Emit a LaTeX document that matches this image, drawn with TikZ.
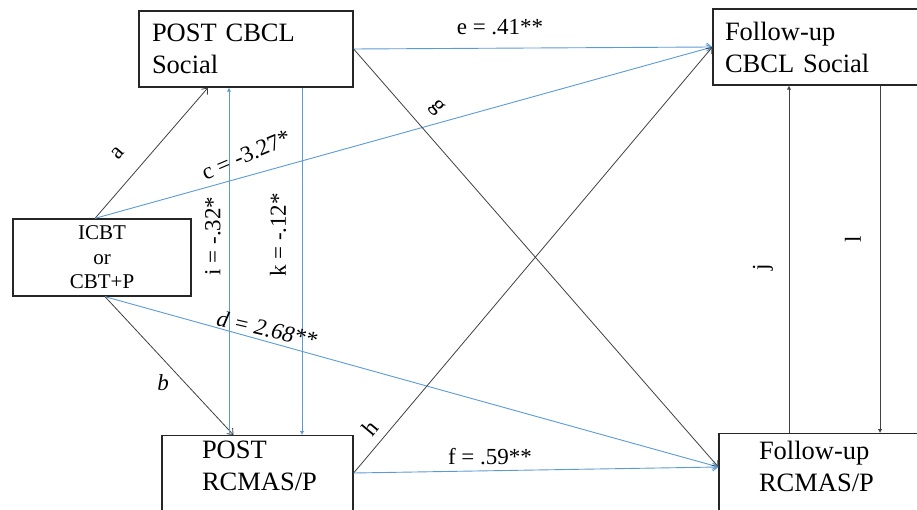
\documentclass[tikz,border=0pt]{standalone}
\usepackage{fontspec}
\setmainfont{Liberation Serif}
\usepackage{xcolor}
\usetikzlibrary{arrows.meta}
\definecolor{pathblue}{HTML}{5B9BD5}
\definecolor{pathgrey}{HTML}{404040}
\definecolor{boxline}{HTML}{262626}

\begin{document}
\begin{tikzpicture}[x=1pt, y=-1pt, font=\fontsize{26.5}{32}\selectfont,
  box/.style={draw=boxline, line width=1.3pt, align=left},
  lbl/.style={inner sep=0pt, font=\fontsize{23}{27}\selectfont},
  bluepath/.style={draw=pathblue, line width=0.9pt},
  greypath/.style={draw=pathgrey, line width=0.8pt},
  opentip/.style={-{Straight Barb[length=5pt,width=8pt]}},
  dottip/.style={-{Latex[length=4pt,width=4.5pt]}}]
  \useasboundingbox (0,0) rectangle (917,510);
  \clip (0,0) rectangle (917,510);

  \node[box, minimum width=214pt, minimum height=76pt, text width=188pt, inner xsep=13pt] (postcbcl) at (246,49) {POST CBCL\\Social};
  \node[box, minimum width=240pt, minimum height=76pt, text width=216pt, inner xsep=12pt] (fucbcl) at (833,47) {Follow-up\\CBCL Social};
  \node[box, align=center, minimum width=178pt, minimum height=77pt, font=\fontsize{21}{24.5}\selectfont] (treat) at (102,257.5) {ICBT\\or\\CBT+P};
  \node[box, anchor=north, text width=111pt, inner xsep=40pt, inner ysep=5pt, text depth=100pt] (postrcmas) at (257.5,435) {POST\\RCMAS/P};
  \node[box, anchor=north, text width=160pt, inner xsep=40pt, inner ysep=7pt, text depth=100pt] (furcmas) at (839,433) {Follow-up\\RCMAS/P};

  \coordinate (ileg) at ([xshift=-17pt]postcbcl.south);
  \coordinate (kleg) at ([xshift=56pt]postcbcl.south);
  \coordinate (jleg) at ([xshift=-44pt]fucbcl.south);
  \coordinate (lleg) at ([xshift=47pt]fucbcl.south);

  \draw[greypath, opentip] ([xshift=-7pt]treat.north) -- ([xshift=-38pt]postcbcl.south);
  \draw[bluepath, opentip] ([xshift=-7pt]treat.north) -- (fucbcl.west);
  \draw[greypath, opentip] ([xshift=3pt]treat.south) -- ([xshift=-24pt]postrcmas.north);
  \draw[bluepath, opentip] ([xshift=3pt]treat.south) -- ([yshift=-34pt]furcmas.north west);
  \draw[bluepath, opentip] (postcbcl.east) -- (fucbcl.west);
  \draw[greypath, opentip] (postcbcl.east) -- ([yshift=-34pt]furcmas.north west);
  \draw[greypath, opentip] ([yshift=-38pt]postrcmas.north east) -- (fucbcl.west);
  \draw[bluepath, opentip] ([yshift=-38pt]postrcmas.north east) -- ([yshift=-34pt]furcmas.north west);
  \draw[bluepath, dottip] (ileg |- postrcmas.north) -- (ileg);
  \draw[bluepath, dottip] (kleg) -- (kleg |- postrcmas.north);
  \draw[greypath, dottip] (jleg |- furcmas.north) -- (jleg);
  \draw[greypath, dottip] (lleg) -- (lleg |- furcmas.north);

  \node[lbl, rotate=49] (la) at (118,153) {a};
  \node[lbl, rotate=23] (lc) at (246,155) {c = -3.27*};
  \node[lbl] (le) at (500,27) {e = .41**};
  \node[lbl, rotate=-49] (lg) at (437,108) {g};
  \node[lbl, rotate=90] (li) at (213,236) {i = -.32*};
  \node[lbl, rotate=90] (lk) at (278,235) {k = -.12*};
  \node[lbl, rotate=-13, font=\fontsize{23}{27}\selectfont\itshape] (ld) at (267,329) {d = 2.68**};
  \node[lbl, font=\fontsize{23}{27}\selectfont\itshape] (lb) at (163,383) {b};
  \node[lbl, rotate=50] (lh) at (370,428) {h};
  \node[lbl] (lf) at (490,457) {f = .59**};
  \node[lbl, rotate=90] (lj) at (763,267) {j};
  \node[lbl, rotate=90] (ll) at (853,239) {l};
\end{tikzpicture}
\end{document}
